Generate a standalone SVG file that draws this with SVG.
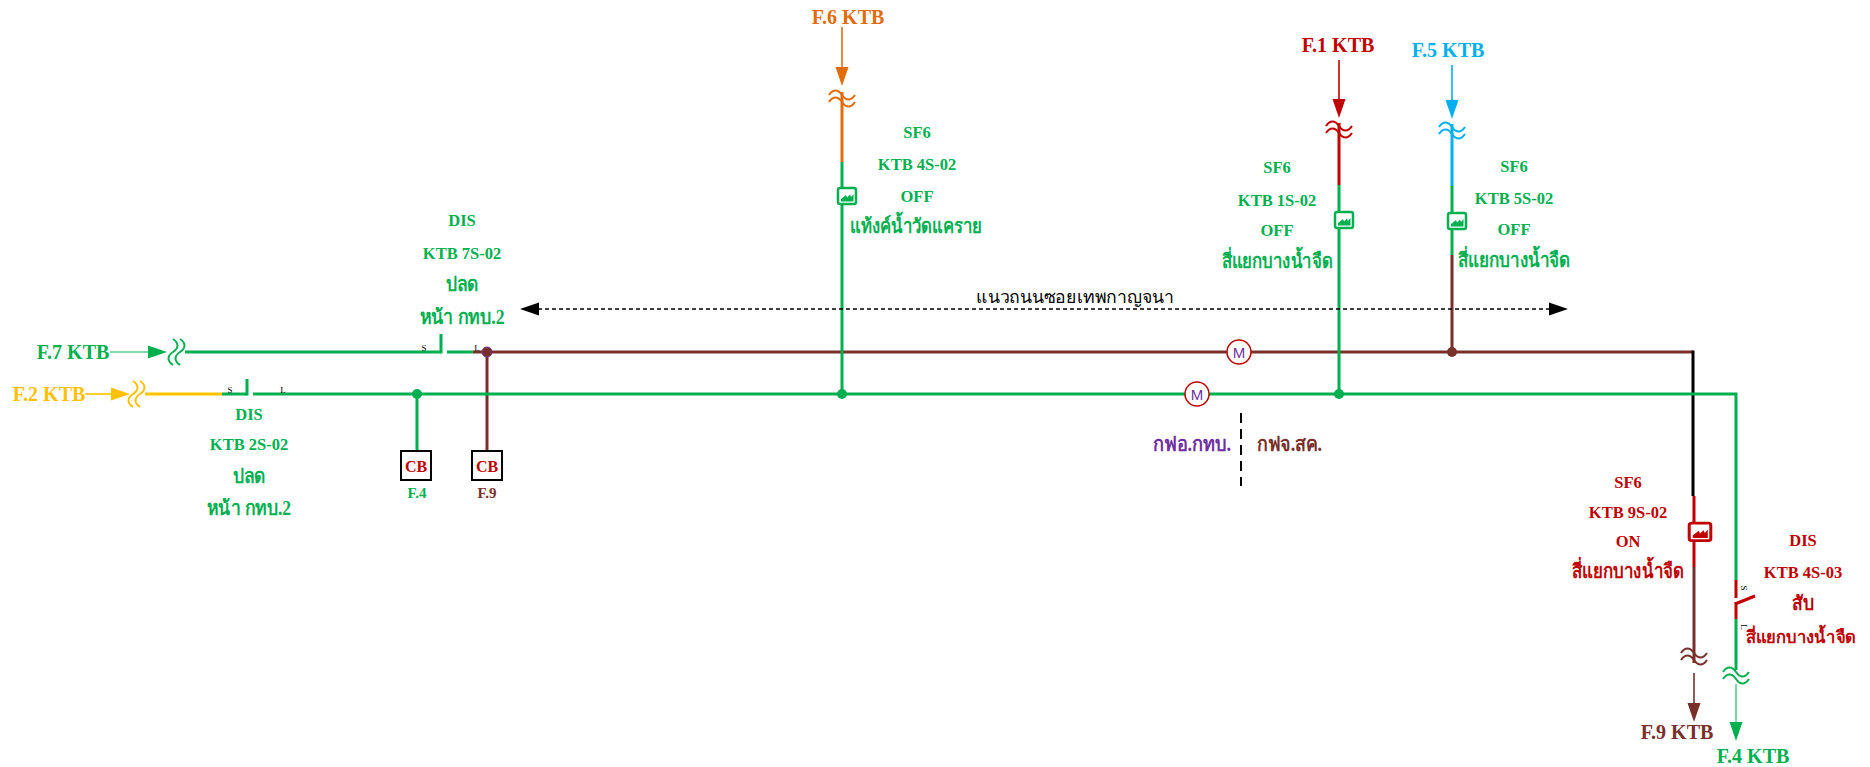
<svg xmlns="http://www.w3.org/2000/svg" xmlns:xlink="http://www.w3.org/1999/xlink" width="1870" height="767" viewBox="0 0 1870 767">
<style>
text{font-family:"Liberation Serif","Noto Sans","DejaVu Sans",serif;font-weight:bold;text-anchor:middle}
.lb{font-size:16.5px}
.th{font-size:20px}
.ft{font-size:20px}
.sl{font-size:9px;font-weight:normal;fill:#000}
.w{fill:none;stroke-width:3}
.t{fill:none;stroke-width:1.6}
.g{stroke:#00B050}.gf{fill:#00B050}
.br{stroke:#78302A}.brf{fill:#78302A}
.r{stroke:#C00000}.rf{fill:#C00000}
.o{stroke:#E36C0A}.of{fill:#E36C0A}
.b{stroke:#00B0F0}.bf{fill:#00B0F0}
.y{stroke:#FFC000}.yf{fill:#FFC000}
.k{stroke:#000}
.pf{fill:#7030A0}
.cg{color:#00B050}.cr{color:#C00000}
.cb{fill:#fff;stroke:#000;stroke-width:2}
</style>
<defs>
<path id="ah" d="M0,0 L-6.5,-19 L6.5,-19 Z"/>
<path id="brk" d="M-13,-3 c4,-6 9,-6 13,0 s9,6 13,0 M-13,4 c4,-6 9,-6 13,0 s9,6 13,0" fill="none" stroke-width="2"/>
<g id="sf6"><rect x="1" y="1" width="18" height="16" rx="2" fill="#fff" stroke="currentColor" stroke-width="2.5"/><path d="M4,14.5 L4,12 L9,8 L10,10.5 L13,7.5 L14,10 L16.5,7 L16.5,14.5 Z" fill="currentColor"/></g>
</defs>

<g id="connectors">
<!-- F.7 incoming -->
<line class="t" x1="110" y1="352" x2="150" y2="352" stroke="#5FCB8C"/>
<use xlink:href="#ah" class="gf" transform="translate(167,352) rotate(-90)"/>
<use xlink:href="#brk" class="g" transform="translate(177,352) rotate(90)"/>
<line class="w g" x1="185" y1="352" x2="441" y2="352"/>
<line class="w g" x1="447" y1="352" x2="473" y2="352"/>
<!-- brown bus -->
<polyline class="w br" points="473,352 1693,352"/>
<line class="w k" x1="1693" y1="350.5" x2="1693" y2="496"/>
<line class="w r" x1="1694" y1="496" x2="1694" y2="567"/>
<line class="w br" x1="1694" y1="567" x2="1694" y2="663"/>
<use xlink:href="#brk" class="br" transform="translate(1694,656)"/>
<line class="t br" x1="1694" y1="673" x2="1694" y2="704"/>
<use xlink:href="#ah" class="brf" transform="translate(1694,722)"/>
<!-- F.9 feeder drop -->
<line class="w br" x1="487" y1="352" x2="487" y2="451"/>
<!-- F.2 incoming -->
<line class="t y" x1="85" y1="394" x2="113" y2="394"/>
<use xlink:href="#ah" class="yf" transform="translate(130,394) rotate(-90)"/>
<use xlink:href="#brk" class="y" transform="translate(137,394) rotate(90)"/>
<line class="w y" x1="145" y1="394" x2="222" y2="394"/>
<line class="w g" x1="222" y1="394" x2="247" y2="394"/>
<!-- green bus -->
<polyline class="w g" points="253,394 1736,394 1736,580"/>
<line class="w g" x1="417" y1="394" x2="417" y2="451"/>
<line class="w g" x1="1736" y1="619" x2="1736" y2="670"/>
<use xlink:href="#brk" class="g" transform="translate(1736,675)"/>
<line class="t" x1="1736" y1="684" x2="1736" y2="724" stroke="#5FCB8C"/>
<use xlink:href="#ah" class="gf" transform="translate(1736,741)"/>
<!-- F.6 -->
<line class="t o" x1="842" y1="27" x2="842" y2="70"/>
<use xlink:href="#ah" class="of" transform="translate(842,86)"/>
<use xlink:href="#brk" class="o" transform="translate(842,98)"/>
<line class="w o" x1="842" y1="92" x2="842" y2="162"/>
<line class="w g" x1="842" y1="162" x2="842" y2="394"/>
<!-- F.1 -->
<line class="t r" x1="1339" y1="60" x2="1339" y2="100"/>
<use xlink:href="#ah" class="rf" transform="translate(1339,118)"/>
<use xlink:href="#brk" class="r" transform="translate(1339,129)"/>
<line class="w r" x1="1339" y1="123" x2="1339" y2="185"/>
<line class="w g" x1="1339" y1="185" x2="1339" y2="394"/>
<!-- F.5 -->
<line class="t b" x1="1452" y1="65" x2="1452" y2="101"/>
<use xlink:href="#ah" class="bf" transform="translate(1452,119)"/>
<use xlink:href="#brk" class="b" transform="translate(1452,130)"/>
<line class="w b" x1="1452" y1="124" x2="1452" y2="186"/>
<line class="w g" x1="1452" y1="186" x2="1452" y2="255"/>
<line class="w br" x1="1452" y1="255" x2="1452" y2="352"/>
<!-- road line -->
<line x1="538" y1="309" x2="1551" y2="309" stroke="#000" stroke-width="1.3" stroke-dasharray="4,3"/>
<use xlink:href="#ah" transform="translate(520,309) rotate(90)"/>
<use xlink:href="#ah" transform="translate(1568,309) rotate(-90)"/>
<!-- boundary -->
<line x1="1241" y1="413" x2="1241" y2="486" stroke="#000" stroke-width="2" stroke-dasharray="10,6"/>
</g>

<g id="junctions">
<circle cx="487" cy="352" r="5" class="brf" stroke="#7030A0" stroke-width="1"/>
<circle cx="1452" cy="352" r="5" class="brf"/>
<circle cx="417" cy="394" r="5" class="gf"/>
<circle cx="842" cy="394" r="5" class="gf"/>
<circle cx="1339" cy="394" r="5" class="gf"/>
</g>

<g id="src-f7"><text class="ft gf" x="73" y="359">F.7 KTB</text></g>
<g id="src-f2"><text class="ft yf" x="49" y="401">F.2 KTB</text></g>
<g id="src-f6"><text class="ft of" x="848" y="24">F.6 KTB</text></g>
<g id="src-f1"><text class="ft rf" x="1338" y="52">F.1 KTB</text></g>
<g id="src-f5"><text class="ft bf" x="1448" y="57">F.5 KTB</text></g>
<g id="dst-f9"><text class="ft brf" x="1677" y="739">F.9 KTB</text></g>
<g id="dst-f4"><text class="ft gf" x="1753" y="763">F.4 KTB</text></g>

<g id="dis-7s02">
<line class="w g" x1="441" y1="334" x2="441" y2="353.5"/>
<text class="sl" x="424" y="351">S</text><text class="sl" x="477" y="351">L</text>
<text class="lb gf" x="462" y="226">DIS</text>
<text class="lb gf" x="462" y="259">KTB 7S-02</text>
<text class="th gf" x="462" y="291" textLength="33" lengthAdjust="spacingAndGlyphs">ปลด</text>
<text class="th gf" x="462" y="324" textLength="85" lengthAdjust="spacingAndGlyphs">หน้า กทบ.2</text>
</g>

<g id="dis-2s02">
<line class="w g" x1="247" y1="379" x2="247" y2="395.5"/>
<text class="sl" x="230" y="393">S</text><text class="sl" x="283" y="393">L</text>
<text class="lb gf" x="249" y="420">DIS</text>
<text class="lb gf" x="249" y="450">KTB 2S-02</text>
<text class="th gf" x="249" y="483" textLength="33" lengthAdjust="spacingAndGlyphs">ปลด</text>
<text class="th gf" x="249" y="515" textLength="84" lengthAdjust="spacingAndGlyphs">หน้า กทบ.2</text>
</g>

<g id="cb-f4">
<rect class="cb" x="401" y="451" width="30" height="29"/>
<text class="rf" x="416" y="472" font-size="16">CB</text>
<text class="gf" x="417" y="498" font-size="15">F.4</text>
</g>
<g id="cb-f9">
<rect class="cb" x="472" y="451" width="30" height="29"/>
<text class="rf" x="487" y="472" font-size="16">CB</text>
<text class="brf" x="487" y="498" font-size="15">F.9</text>
</g>

<g id="sf6-4s02">
<use xlink:href="#sf6" class="cg" transform="translate(837,187)"/>
<text class="lb gf" x="917" y="138">SF6</text>
<text class="lb gf" x="917" y="170">KTB 4S-02</text>
<text class="lb gf" x="917" y="202">OFF</text>
<text class="th gf" x="916" y="233" textLength="132" lengthAdjust="spacingAndGlyphs">แท้งค์น้ำวัดแคราย</text>
</g>

<g id="sf6-1s02">
<use xlink:href="#sf6" class="cg" transform="translate(1334,211)"/>
<text class="lb gf" x="1277" y="173">SF6</text>
<text class="lb gf" x="1277" y="206">KTB 1S-02</text>
<text class="lb gf" x="1277" y="236">OFF</text>
<text class="th gf" x="1277" y="268" textLength="111" lengthAdjust="spacingAndGlyphs">สี่แยกบางน้ำจืด</text>
</g>

<g id="sf6-5s02">
<use xlink:href="#sf6" class="cg" transform="translate(1447,212)"/>
<text class="lb gf" x="1514" y="172">SF6</text>
<text class="lb gf" x="1514" y="204">KTB 5S-02</text>
<text class="lb gf" x="1514" y="235">OFF</text>
<text class="th gf" x="1514" y="267" textLength="113" lengthAdjust="spacingAndGlyphs">สี่แยกบางน้ำจืด</text>
</g>

<g id="sf6-9s02">
<use xlink:href="#sf6" class="cr" transform="translate(1688,522) scale(1.2,1.1)"/>
<text class="lb rf" x="1628" y="488">SF6</text>
<text class="lb rf" x="1628" y="518">KTB 9S-02</text>
<text class="lb rf" x="1628" y="547">ON</text>
<text class="th rf" x="1628" y="578" textLength="112" lengthAdjust="spacingAndGlyphs">สี่แยกบางน้ำจืด</text>
</g>

<g id="dis-4s03">
<line class="w r" x1="1736" y1="580" x2="1736" y2="598"/>
<line class="w r" x1="1735" y1="604" x2="1755" y2="596"/>
<line class="w r" x1="1736" y1="602" x2="1736" y2="619"/>
<text class="sl" transform="translate(1741,588) rotate(90)">S</text>
<text class="sl" transform="translate(1741,627) rotate(90)">L</text>
<text class="lb rf" x="1803" y="546">DIS</text>
<text class="lb rf" x="1803" y="578">KTB 4S-03</text>
<text class="th rf" x="1803" y="610" textLength="22" lengthAdjust="spacingAndGlyphs">สับ</text>
<text class="rf" x="1801" y="643" font-size="17" textLength="110" lengthAdjust="spacingAndGlyphs">สี่แยกบางน้ำจืด</text>
</g>

<g id="meter-1">
<circle cx="1239" cy="352" r="12" fill="#fff" stroke="#C00000" stroke-width="1.5"/>
<text class="pf" x="1239" y="358" font-size="15" style="font-family:'Liberation Sans',sans-serif;font-weight:normal">M</text>
</g>
<g id="meter-2">
<circle cx="1197" cy="394" r="12" fill="#fff" stroke="#C00000" stroke-width="1.5"/>
<text class="pf" x="1197" y="400" font-size="15" style="font-family:'Liberation Sans',sans-serif;font-weight:normal">M</text>
</g>

<g id="road-label"><text x="1075" y="303" font-size="18" style="font-weight:normal" fill="#000" textLength="198" lengthAdjust="spacingAndGlyphs">แนวถนนซอยเทพกาญจนา</text></g>
<g id="area-labels">
<text class="th pf" x="1231" y="451" style="text-anchor:end" textLength="78" lengthAdjust="spacingAndGlyphs">กฟอ.กทบ.</text>
<text class="th brf" x="1257" y="451" style="text-anchor:start" textLength="65" lengthAdjust="spacingAndGlyphs">กฟจ.สค.</text>
</g>
</svg>
